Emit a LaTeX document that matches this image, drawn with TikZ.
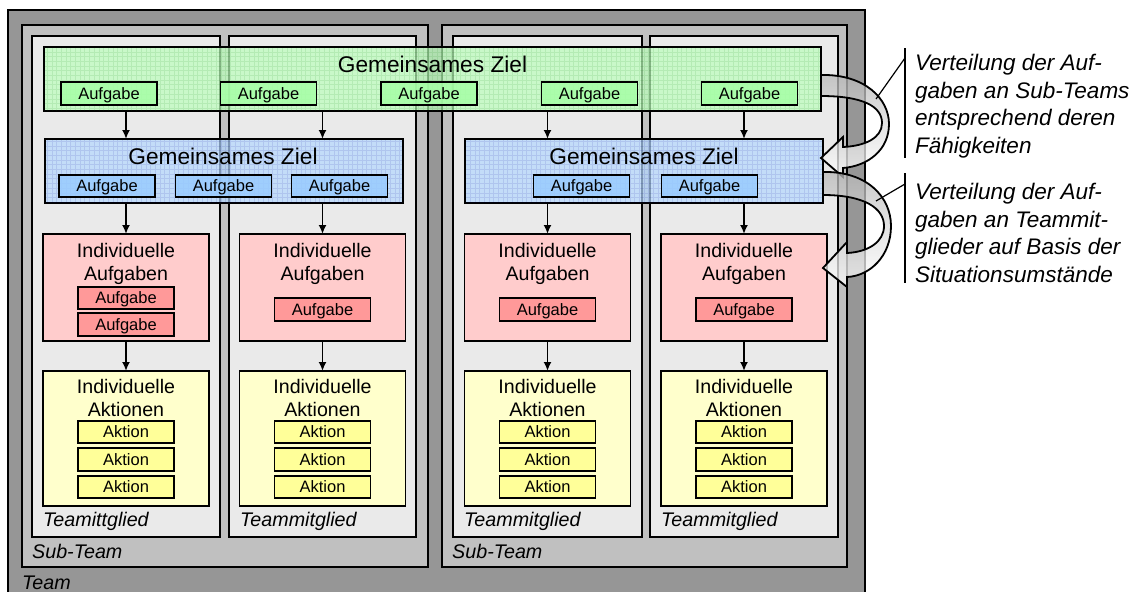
\documentclass[tikz,border=0pt]{standalone}
\usepackage{fontspec}
\setmainfont{Liberation Sans}
\usetikzlibrary{arrows.meta,fit}
\definecolor{teamgray}{HTML}{969696}
\definecolor{subgray}{HTML}{C0C0C0}
\definecolor{membergray}{HTML}{EAEAEA}
\definecolor{goalgreen}{HTML}{BCFFBC}
\definecolor{taskgreen}{HTML}{A6FFA6}
\definecolor{goalblue}{HTML}{B3D7FF}
\definecolor{taskblue}{HTML}{99CCFF}
\definecolor{indpink}{HTML}{FFCCCC}
\definecolor{taskpink}{HTML}{FF9999}
\definecolor{actyellow}{HTML}{FFFFCC}
\definecolor{taskyellow}{HTML}{FFFF99}

\tikzset{
  frame/.style={draw, line width=1.8pt, inner sep=0pt, outer sep=0pt},
  area/.style={frame, fit={#1}},
  bigtitle/.style={inner sep=0pt, text height=16.2pt, text depth=0pt,
    font=\fontsize{22.7}{26}\selectfont},
  midtitle/.style={inner sep=0pt, text height=14pt, text depth=0pt,
    font=\fontsize{19.6}{23}\selectfont},
  grouplabel/.style={inner sep=0pt, text height=14.1pt, text depth=0pt,
    anchor=west, font=\itshape\fontsize{19.7}{23}\selectfont},
  item/.style={frame, text height=11.8pt, text depth=0pt,
    minimum width=96pt, minimum height=22.5pt,
    font=\fontsize{16.5}{18}\selectfont},
  itemG/.style={item, fill=taskgreen, fill opacity=0.85, text opacity=1},
  itemB/.style={item, fill=taskblue, fill opacity=0.85, text opacity=1},
  itemP/.style={item, fill=taskpink},
  itemY/.style={item, fill=taskyellow},
  arr/.style={line width=1.8pt, -{Latex[length=9pt,width=8pt]}},
  gridline/.style={line width=0.4pt, draw opacity=0.1},
  turn/.style={line width=1.8pt, top color=black!28, bottom color=white,
    fill opacity=0.75, draw opacity=1},
  note/.style={anchor=north west, inner sep=0pt, align=left,
    font=\itshape\fontsize{22.5}{27.5}\selectfont},
  leader/.style={line width=1.2pt}
}

\begin{document}
\begin{tikzpicture}[x=1pt,y=-1pt]
\useasboundingbox (0,0) rectangle (1144,592);
\begin{scope}
\clip (0,0) rectangle (1144,592);

% team, sub-teams and team members
\node[area={(8,10) (865,600)}, fill=teamgray] (team) {};
\node[area={(22,25) (428,567)}, fill=subgray] (subL) {};
\node[area={(442,25) (847,567)}, fill=subgray] (subR) {};
\node[area={(32,36) (220,537)}, fill=membergray] (m1) {};
\node[area={(229,36) (416,537)}, fill=membergray] (m2) {};
\node[area={(453,36) (642,537)}, fill=membergray] (m3) {};
\node[area={(650,36) (838,537)}, fill=membergray] (m4) {};
\end{scope}

% column centres of the team members
\coordinate (c1) at (126,0);
\coordinate (c2) at (322.5,0);
\coordinate (c3) at (547.5,0);
\coordinate (c4) at (744,0);

% labels of the containers
\node[grouplabel] (l1) at (43,519) {Teamittglied};
\node[grouplabel] (l2) at (240,519) {Teammitglied};
\node[grouplabel] (l3) at (464,519) {Teammitglied};
\node[grouplabel] (l4) at (661,519) {Teammitglied};
\node[grouplabel] (s1) at (32,551) {Sub-Team};
\node[grouplabel] (s2) at (452,551) {Sub-Team};
\node[grouplabel] (t1) at (22,582) {Team};

% common goal of the team
\node[area={(44,47) (821,111)}, fill=goalgreen, fill opacity=0.7, draw opacity=1] (gz) {};
\begin{scope}
\clip (45,48) rectangle (820,110);
\draw[gridline, draw=green!50!black, step=4.7pt] (44,47) grid (821,111);
\end{scope}
\node[bigtitle] (gzt) at (432.5,64.5) {Gemeinsames Ziel};
\node[itemG] (g1) at (109,93.5) {Aufgabe};
\node[itemG] (g2) at (268.5,93.5) {Aufgabe};
\node[itemG] (g3) at (429,93.5) {Aufgabe};
\node[itemG] (g4) at (589.5,93.5) {Aufgabe};
\node[itemG] (g5) at (749.5,93.5) {Aufgabe};

% common goals of the sub-teams
\node[area={(45,139) (403,203)}, fill=goalblue, fill opacity=0.7, draw opacity=1] (bL) {};
\node[area={(465,139) (823,203)}, fill=goalblue, fill opacity=0.7, draw opacity=1] (bR) {};
\begin{scope}
\clip (46,140) rectangle (402,202);
\draw[gridline, draw=blue!60!black, step=4.7pt] (45,139) grid (403,203);
\end{scope}
\begin{scope}
\clip (466,140) rectangle (822,202);
\draw[gridline, draw=blue!60!black, step=4.7pt] (465,139) grid (823,203);
\end{scope}
\node[bigtitle] (bLt) at (223,156) {Gemeinsames Ziel};
\node[bigtitle] (bRt) at (644,156) {Gemeinsames Ziel};
\node[itemB] (b1) at (107,186) {Aufgabe};
\node[itemB] (b2) at (223.5,186) {Aufgabe};
\node[itemB] (b3) at (339.5,186) {Aufgabe};
\node[itemB] (b4) at (581.5,186) {Aufgabe};
\node[itemB] (b5) at (709.5,186) {Aufgabe};

% individual tasks
\node[area={(43,234) (209,341)}, fill=indpink] (p1) {};
\node[area={(239.5,234) (405.5,341)}, fill=indpink] (p2) {};
\node[area={(464.5,234) (630.5,341)}, fill=indpink] (p3) {};
\node[area={(661,234) (827,341)}, fill=indpink] (p4) {};
\foreach \c/\n in {126/1, 322.5/2, 547.5/3, 744/4} {
  \node[midtitle] (pa\n) at (\c,250) {Individuelle};
  \node[midtitle] (pb\n) at (\c,273.5) {Aufgaben};
}
\node[itemP] (pt1) at (126,298) {Aufgabe};
\node[itemP] (pt2) at (126,324.5) {Aufgabe};
\node[itemP] (pt3) at (322.5,309.5) {Aufgabe};
\node[itemP] (pt4) at (547.5,309.5) {Aufgabe};
\node[itemP] (pt5) at (744,309.5) {Aufgabe};

% individual actions
\node[area={(43,371) (209,506)}, fill=actyellow] (y1) {};
\node[area={(239.5,371) (405.5,506)}, fill=actyellow] (y2) {};
\node[area={(464.5,371) (630.5,506)}, fill=actyellow] (y3) {};
\node[area={(661,371) (827,506)}, fill=actyellow] (y4) {};
\foreach \c/\n in {126/1, 322.5/2, 547.5/3, 744/4} {
  \node[midtitle] (ya\n) at (\c,386) {Individuelle};
  \node[midtitle] (yb\n) at (\c,409.5) {Aktionen};
  \node[itemY] (ak\n) at (\c,432) {Aktion};
  \node[itemY] (bk\n) at (\c,459.5) {Aktion};
  \node[itemY] (ck\n) at (\c,487) {Aktion};
}

% refinement arrows
\draw[arr] (gz.south -| c1) -- (bL.north -| c1);
\draw[arr] (gz.south -| c2) -- (bL.north -| c2);
\draw[arr] (gz.south -| c3) -- (bR.north -| c3);
\draw[arr] (gz.south -| c4) -- (bR.north -| c4);
\draw[arr] (bL.south -| c1) -- (p1.north);
\draw[arr] (bL.south -| c2) -- (p2.north);
\draw[arr] (bR.south -| c3) -- (p3.north);
\draw[arr] (bR.south -| c4) -- (p4.north);
\draw[arr] (p1.south) -- (y1.north);
\draw[arr] (p2.south) -- (y2.north);
\draw[arr] (p3.south) -- (y3.north);
\draw[arr] (p4.south) -- (y4.north);

% curved distribution arrows
\draw[turn] (821,75) .. controls (865,74) and (889,99) .. (889,124)
  .. controls (889,150) and (868,166) .. (843,168)
  -- (843,177) -- (821,158) -- (843,137) -- (843,147)
  .. controls (865,146) and (882,138) .. (882,123)
  .. controls (882,106) and (862,96) .. (821,96) -- cycle;
\draw[turn] (823,172) .. controls (867,171) and (891,197) .. (891,226)
  .. controls (891,256) and (870,276) .. (847,277)
  -- (847,287) -- (823,268) -- (847,242) -- (847,253)
  .. controls (868,252) and (884,242) .. (884,226)
  .. controls (884,208) and (864,195) .. (823,195) -- cycle;

% notes
\coordinate (v1a) at (905,48);
\coordinate (v1b) at (905,158);
\coordinate (v2a) at (905,173);
\coordinate (v2b) at (905,283);
\coordinate (h1) at (876,99);
\coordinate (h2) at (876,201);
\draw[leader] (v1a) -- (v1b);
\draw[leader] (v2a) -- (v2b);
\draw[leader] (905,58) -- (h1);
\draw[leader] (905,184) -- (h2);
\node[note] (n1) at (915,54) {Verteilung der Auf-\\gaben an Sub-Teams\\entsprechend deren\\Fähigkeiten};
\node[note] (n2) at (915,183) {Verteilung der Auf-\\gaben an Teammit-\\glieder auf Basis der\\Situationsumstände};
\end{tikzpicture}
\end{document}
